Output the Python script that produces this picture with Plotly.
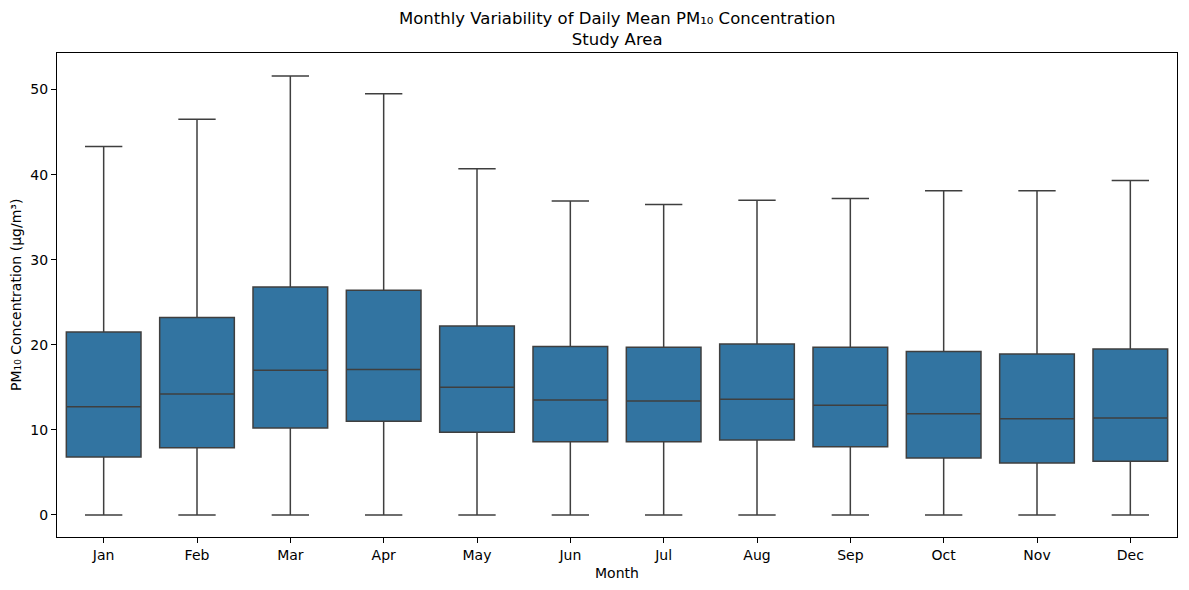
import plotly.graph_objects as go

# Summary statistics (daily mean PM10, µg/m³)
months = ['Jan', 'Feb', 'Mar', 'Apr', 'May', 'Jun', 'Jul', 'Aug', 'Sep', 'Oct', 'Nov', 'Dec']
lower = [0, 0, 0, 0, 0, 0, 0, 0, 0, 0, 0, 0]
q1 = [6.8, 7.9, 10.2, 11.0, 9.7, 8.6, 8.6, 8.8, 8.0, 6.7, 6.1, 6.3]
median = [12.7, 14.2, 17.0, 17.1, 15.0, 13.5, 13.4, 13.6, 12.9, 11.9, 11.3, 11.4]
q3 = [21.5, 23.2, 26.8, 26.4, 22.2, 19.8, 19.7, 20.1, 19.7, 19.2, 18.9, 19.5]
upper = [43.3, 46.5, 51.6, 49.5, 40.7, 36.9, 36.5, 37.0, 37.2, 38.1, 38.1, 39.3]

fig = go.Figure()
fig.add_trace(go.Box(
    x=months, q1=q1, median=median, q3=q3,
    lowerfence=lower, upperfence=upper,
    fillcolor='#3274a1', line=dict(color='#3f3f3f', width=1.5),
    whiskerwidth=0.5, boxpoints=False, width=0.8, showlegend=False,
    hoverinfo='y',
))

axis_style = dict(
    showline=True, linecolor='black', linewidth=1, mirror=True,
    ticks='outside', ticklen=5, tickcolor='black', showgrid=False,
    tickfont=dict(size=14), automargin=False,
)

# page body has an 8px margin, so the figure is a bit smaller than the window
fig.update_layout(
    width=1181, height=582,
    margin=dict(l=49, r=12, t=45, b=53),
    plot_bgcolor='white', paper_bgcolor='white',
    font=dict(family='DejaVu Sans', size=14, color='black'),
    xaxis=dict(range=[-0.5, 11.5], **axis_style),
    yaxis=dict(range=[-2.6, 54.3], zeroline=False,
               tickvals=[0, 10, 20, 30, 40, 50], **axis_style),
    annotations=[
        dict(text='Monthly Variability of Daily Mean PM₁₀ Concentration<br>Study Area',
             x=0.5, xref='paper', xanchor='center',
             y=1, yref='paper', yanchor='bottom', yshift=2,
             showarrow=False, font=dict(size=16.5)),
        dict(text='Month', x=0.5, xref='paper', xanchor='center',
             y=0, yref='paper', yanchor='top', yshift=-26,
             showarrow=False, font=dict(size=14)),
        dict(text='PM₁₀ Concentration (µg/m³)', textangle=-90,
             x=0, xref='paper', xanchor='right', xshift=-31,
             y=0.5, yref='paper', yanchor='middle',
             showarrow=False, font=dict(size=14)),
    ],
)

fig.write_html('out.html')
